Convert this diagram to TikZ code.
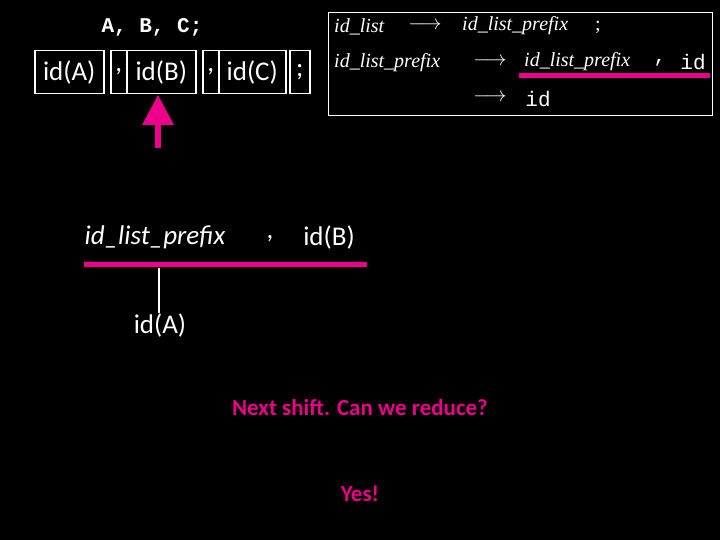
\documentclass[tikz,border=0pt]{standalone}
\usepackage{fontspec}
\setmainfont{Liberation Serif}
\newfontfamily\calfnt{Carlito}
\newfontfamily\monofnt{Liberation Mono}
\begin{document}
\begin{tikzpicture}[x=1pt,y=-1pt,
  cell/.style={draw=white,line width=1.5pt,text=white,font=\calfnt\fontsize{27}{27}\selectfont,minimum height=43pt,inner sep=0pt,anchor=west},
  wt/.style={text=white,inner sep=0pt},
  rl/.style={wt,font=\fontsize{20}{20}\selectfont\itshape,anchor=west},
  ar/.style={wt,font=\fontsize{20}{20}\selectfont},
  mg/.style={draw=magenta,line width=5pt}]
\fill[black] (0,0) rectangle (720,540);
\useasboundingbox (0,0) rectangle (720,540);
\node[wt,font=\monofnt\bfseries\fontsize{21}{21}\selectfont] (abc) at (152,27) {A, B, C;};
\node[cell,minimum width=69pt] (c1) at (34,72) {id(A)};
\node[cell,minimum width=16pt] (c2) at (110,72) {,};
\node[cell,minimum width=69pt] (c3) at (126,72) {id(B)};
\node[cell,minimum width=16pt] (c4) at (202,72) {,};
\node[cell,minimum width=67pt] (c5) at (218,72) {id(C)};
\node[cell,minimum width=20pt] (c6) at (289,72) {;};
\coordinate (tip) at (158,95);
\fill[magenta] (tip) -- (174,125) -- (142,125) -- cycle;
\fill[magenta] (155,124) rectangle (161,148);
\node[draw=white,line width=1pt,minimum width=384pt,minimum height=103pt,anchor=north west,inner sep=0pt] (rules) at (328,12) {};
\node[rl] (r1a) at (334,27) {id\_list};
\node[ar] (r1b) at (425,26) {$\longrightarrow$};
\node[rl] (r1c) at (462,26) {id\_list\_prefix};
\node[ar] (r1d) at (598,27) {;};
\node[rl] (r2a) at (334,63) {id\_list\_prefix};
\node[ar] (r2b) at (490,62) {$\longrightarrow$};
\node[rl] (r2c) at (524,62) {id\_list\_prefix};
\node[wt,font=\monofnt\fontsize{21}{21}\selectfont] (r2d) at (660,63) {,};
\node[wt,font=\monofnt\fontsize{21}{21}\selectfont] (r2e) at (693,62) {id};
\draw[mg] (519,76) -- (710,76);
\node[ar] (r3b) at (490,98) {$\longrightarrow$};
\node[wt,font=\monofnt\fontsize{21}{21}\selectfont] (r3c) at (538,99) {id};
\begin{scope}[every node/.style={wt,font=\calfnt\fontsize{27}{27}\selectfont}]
\node[font=\calfnt\itshape\fontsize{27}{27}\selectfont] (p) at (155,237) {id\_list\_prefix};
\node (cm) at (270,239) {,};
\node (b) at (329,237) {id(B)};
\node (a) at (160,325) {id(A)};
\end{scope}
\draw[mg] (84,264) -- (367,264);
\coordinate (v1) at (159,268);
\draw[white,line width=1.2pt] (v1) -- (a.north -| v1);
\node[text=magenta,font=\calfnt\bfseries\fontsize{23}{23}\selectfont] (q) at (360,408) {Next shift. Can we reduce?};
\node[text=magenta,font=\calfnt\bfseries\fontsize{23}{23}\selectfont] (y) at (360,494) {Yes!};
\end{tikzpicture}
\end{document}
